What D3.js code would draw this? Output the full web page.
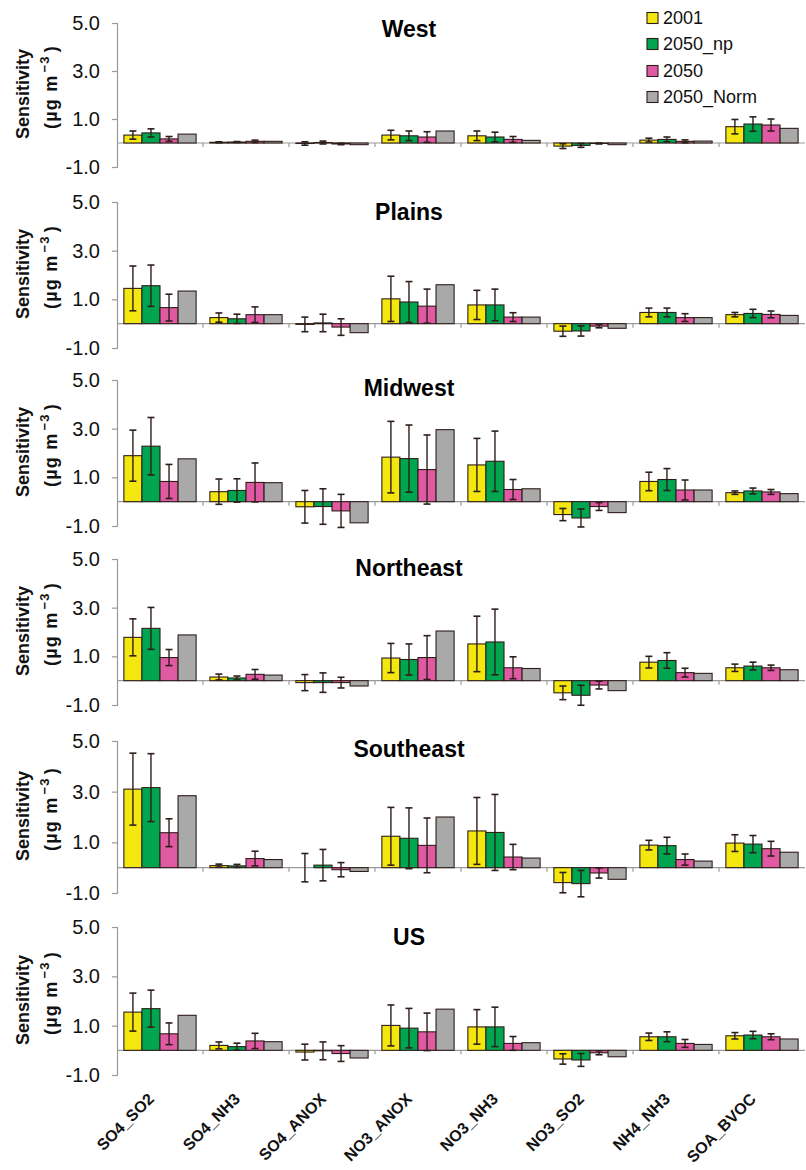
<!DOCTYPE html>
<html>
<head>
<meta charset="utf-8">
<script src="https://cdn.jsdelivr.net/npm/d3@7"></script>
<style>
  html, body { margin: 0; padding: 0; background: #fff; }
  svg { display: block; font-family: "Liberation Sans", Arial, sans-serif; }
</style>
</head>
<body>
<svg id="chart" width="806" height="1170"></svg>
<script>
// ---------------- DATA ----------------
const categories = ["SO4_SO2", "SO4_NH3", "SO4_ANOX", "NO3_ANOX", "NO3_NH3", "NO3_SO2", "NH4_NH3", "SOA_BVOC"];
const seriesNames = ["2001", "2050_np", "2050", "2050_Norm"];
const regions = ["West", "Plains", "Midwest", "Northeast", "Southeast", "US"];
const yTicks = [-1, 1, 3, 5];

// values per category: [2001, 2050_np, 2050, 2050_Norm]
const westValues = [
  [0.33, 0.42, 0.17, 0.37], [0.03, 0.04, 0.07, 0.07], [-0.02, 0.02, -0.04, -0.07], [0.33, 0.30, 0.25, 0.50],
  [0.30, 0.25, 0.15, 0.11], [-0.13, -0.10, -0.02, -0.07], [0.12, 0.15, 0.07, 0.08], [0.68, 0.79, 0.75, 0.61]
];
// error half-widths: [2001, 2050_np, 2050]
const westErrors = [
  [0.17, 0.17, 0.10], [0.02, 0.02, 0.05], [0.07, 0.06, 0.03], [0.20, 0.20, 0.22],
  [0.20, 0.20, 0.12], [0.10, 0.08, 0.02], [0.08, 0.10, 0.06], [0.30, 0.30, 0.25]
];
const plainsValues = [
  [1.45, 1.56, 0.66, 1.34], [0.25, 0.20, 0.37, 0.37], [-0.03, 0.03, -0.14, -0.37], [1.02, 0.89, 0.72, 1.60],
  [0.77, 0.77, 0.27, 0.27], [-0.31, -0.30, -0.10, -0.19], [0.46, 0.46, 0.25, 0.25], [0.37, 0.42, 0.38, 0.34]
];
const plainsErrors = [
  [0.92, 0.85, 0.55], [0.19, 0.19, 0.32], [0.30, 0.36, 0.34], [0.93, 0.84, 0.70],
  [0.60, 0.65, 0.18], [0.21, 0.21, 0.07], [0.18, 0.18, 0.16], [0.09, 0.17, 0.14]
];
const midwestValues = [
  [1.89, 2.28, 0.83, 1.76], [0.41, 0.46, 0.79, 0.78], [-0.21, -0.20, -0.38, -0.87], [1.83, 1.77, 1.32, 2.96],
  [1.51, 1.66, 0.50, 0.53], [-0.53, -0.67, -0.20, -0.45], [0.83, 0.91, 0.48, 0.48], [0.37, 0.44, 0.40, 0.33]
];
const midwestErrors = [
  [1.05, 1.18, 0.70], [0.52, 0.48, 0.80], [0.67, 0.73, 0.68], [1.47, 1.38, 1.42],
  [1.09, 1.24, 0.41], [0.25, 0.37, 0.16], [0.38, 0.45, 0.41], [0.07, 0.12, 0.10]
];
const northeastValues = [
  [1.78, 2.15, 0.95, 1.88], [0.15, 0.11, 0.26, 0.23], [-0.08, -0.08, -0.08, -0.22], [0.93, 0.87, 0.95, 2.04],
  [1.51, 1.59, 0.53, 0.50], [-0.50, -0.60, -0.18, -0.41], [0.76, 0.83, 0.33, 0.30], [0.53, 0.60, 0.53, 0.45]
];
const northeastErrors = [
  [0.76, 0.86, 0.33], [0.12, 0.08, 0.20], [0.33, 0.40, 0.22], [0.60, 0.64, 0.90],
  [1.14, 1.35, 0.45], [0.28, 0.41, 0.16], [0.24, 0.32, 0.18], [0.15, 0.16, 0.11]
];
const southeastValues = [
  [3.10, 3.16, 1.38, 2.84], [0.08, 0.07, 0.36, 0.32], [0.00, 0.10, -0.08, -0.15], [1.24, 1.16, 0.88, 2.00],
  [1.45, 1.39, 0.42, 0.38], [-0.59, -0.63, -0.21, -0.46], [0.89, 0.87, 0.32, 0.26], [0.97, 0.93, 0.75, 0.61]
];
const southeastErrors = [
  [1.42, 1.34, 0.55], [0.06, 0.06, 0.29], [0.56, 0.62, 0.28], [1.14, 1.20, 1.08],
  [1.32, 1.50, 0.50], [0.40, 0.52, 0.20], [0.19, 0.33, 0.22], [0.33, 0.34, 0.29]
];
const usValues = [
  [1.55, 1.69, 0.67, 1.42], [0.20, 0.15, 0.38, 0.35], [-0.07, -0.02, -0.13, -0.31], [1.01, 0.90, 0.75, 1.67],
  [0.95, 0.95, 0.28, 0.31], [-0.35, -0.39, -0.10, -0.26], [0.55, 0.55, 0.28, 0.24], [0.59, 0.62, 0.55, 0.46]
];
const usErrors = [
  [0.77, 0.75, 0.44], [0.14, 0.14, 0.31], [0.32, 0.36, 0.32], [0.83, 0.80, 0.76],
  [0.70, 0.80, 0.28], [0.21, 0.26, 0.08], [0.15, 0.20, 0.16], [0.13, 0.15, 0.12]
];
const regionValues = [westValues, plainsValues, midwestValues, northeastValues, southeastValues, usValues];
const regionErrors = [westErrors, plainsErrors, midwestErrors, northeastErrors, southeastErrors, usErrors];

// ---------------- LAYOUT / STYLE ----------------
const colors = ["#f4e710", "#00a550", "#e05aa3", "#a9a9a9"];
const barStroke = "#2e1e1a";
const axisColor = "#9a9a9a";
const FONT = "'Liberation Sans', Arial, sans-serif";
const panelTop = [23, 202, 380, 559, 741, 927];     // pixel y of value 5
const panelBottom = [167, 348, 526, 705, 893, 1075]; // pixel y of value -1
const titleDy = [14, 18, 16, 17, 16, 18];
const plotLeft = 117, plotRight = 805;

const svg = d3.select("#chart").attr("font-family", FONT);

const x0 = d3.scaleBand().domain(categories).range([plotLeft, plotRight]).padding(0);
const bw = x0.bandwidth();
const x1 = d3.scaleBand().domain(seriesNames).range([bw * 0.08, bw * 0.92]).padding(0);

regions.forEach((region, i) => {
  const y = d3.scaleLinear().domain([-1, 5]).range([panelBottom[i], panelTop[i]]);
  const g = svg.append("g");
  const vals = regionValues[i];
  const errs = regionErrors[i];

  // y axis
  const yAxis = d3.axisLeft(y).tickValues(yTicks).tickSize(5).tickPadding(12)
    .tickFormat(d => d.toFixed(1));
  const ya = g.append("g").attr("transform", `translate(${plotLeft},0)`).call(yAxis);
  ya.select(".domain").attr("stroke", axisColor).attr("stroke-width", 1.2);
  ya.selectAll(".tick line").attr("stroke", axisColor).attr("stroke-width", 1.2);
  ya.selectAll(".tick text").attr("font-size", 20).attr("fill", "#111").attr("font-family", FONT);

  // zero (category) axis
  const y0 = y(0);
  g.append("line").attr("x1", plotLeft).attr("x2", plotRight).attr("y1", y0).attr("y2", y0)
    .attr("stroke", axisColor).attr("stroke-width", 1.2);
  g.selectAll(".ctick").data(categories.slice(1)).enter().append("line")
    .attr("x1", d => x0(d)).attr("x2", d => x0(d))
    .attr("y1", y0).attr("y2", y0 + 4)
    .attr("stroke", axisColor).attr("stroke-width", 1.2);

  // bars
  categories.forEach((cat, ci) => {
    seriesNames.forEach((s, si) => {
      const v = vals[ci][si];
      g.append("rect")
        .attr("x", x0(cat) + x1(s))
        .attr("width", x1.bandwidth())
        .attr("y", Math.min(y(v), y0))
        .attr("height", Math.abs(y(v) - y0))
        .attr("fill", colors[si])
        .attr("stroke", barStroke)
        .attr("stroke-width", 1.1);
    });
  });

  // error bars
  categories.forEach((cat, ci) => {
    errs[ci].forEach((e, si) => {
      const v = vals[ci][si];
      const cx = x0(cat) + x1(seriesNames[si]) + x1.bandwidth() / 2;
      const yt = y(v + e), yb = y(v - e);
      g.append("line").attr("x1", cx).attr("x2", cx).attr("y1", yt).attr("y2", yb)
        .attr("stroke", "#2e1e1a").attr("stroke-width", 1.4);
      [yt, yb].forEach(yy => {
        g.append("line").attr("x1", cx - 3.5).attr("x2", cx + 3.5).attr("y1", yy).attr("y2", yy)
          .attr("stroke", "#2e1e1a").attr("stroke-width", 1.6);
      });
    });
  });

  // title
  g.append("text").attr("x", 409).attr("y", panelTop[i] + titleDy[i])
    .attr("text-anchor", "middle").attr("font-size", 23).attr("font-weight", "bold")
    .attr("fill", "#000").text(region);

  // y label
  const cy = (panelTop[i] + panelBottom[i]) / 2;
  g.append("text").attr("transform", `translate(29,${cy - 1}) rotate(-90)`)
    .attr("text-anchor", "middle").attr("font-size", 18).attr("font-weight", "bold")
    .attr("fill", "#111").text("Sensitivity");
  const t2 = g.append("text").attr("transform", `translate(57,${cy - 8}) rotate(-90)`)
    .attr("text-anchor", "middle").attr("font-size", 18).attr("font-weight", "bold")
    .attr("letter-spacing", 1.2).attr("fill", "#111");
  t2.append("tspan").text("(µg m");
  t2.append("tspan").attr("font-size", 13).attr("dy", -8).attr("dx", 2).text("−3");
  t2.append("tspan").attr("dy", 8).attr("dx", 3).text(")");
});

// x labels
const labelTop = 1100;
svg.append("g").selectAll("text").data(categories).enter().append("text")
  .attr("transform", d => `translate(${x0(d) + bw / 2 - 5},${labelTop}) rotate(-45)`)
  .attr("text-anchor", "end").attr("font-size", 16).attr("font-weight", "bold")
  .attr("fill", "#111").text(d => d);

// legend
const legendRows = [18, 44, 71, 97];
const lg = svg.append("g");
seriesNames.forEach((s, si) => {
  lg.append("rect").attr("x", 647).attr("y", legendRows[si] - 5.5).attr("width", 11).attr("height", 11)
    .attr("fill", colors[si]).attr("stroke", barStroke).attr("stroke-width", 1.1);
  lg.append("text").attr("x", 663).attr("y", legendRows[si]).attr("dy", "0.36em")
    .attr("font-size", 18).attr("fill", "#111").text(s);
});
</script>
</body>
</html>
